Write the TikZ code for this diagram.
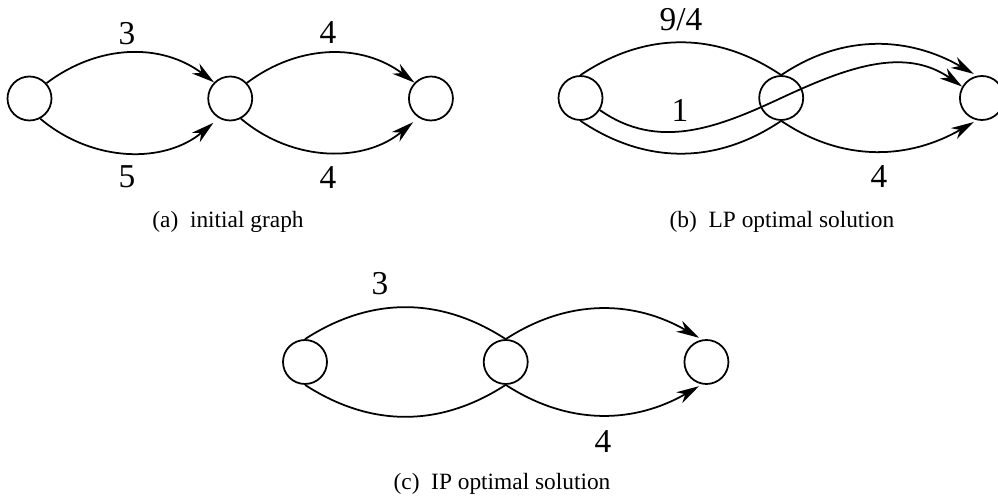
\documentclass[tikz,border=0pt]{standalone}
\usepackage{fontspec}
\setmainfont{Liberation Serif}
\usetikzlibrary{arrows.meta, positioning}

\begin{document}
\begin{tikzpicture}[
    x=0.02cm, y=-0.02cm,
    node distance=3.1cm,
    >={Stealth[length=13pt, width=7pt, inset=4pt]},
    vertex/.style={circle, draw, line width=1pt, minimum size=0.88cm, inner sep=0pt},
    arc/.style={line width=1pt},
    flow/.style={->, line width=1pt},
    weight/.style={font=\fontsize{19}{22}\selectfont, inner sep=0pt},
    caption/.style={font=\fontsize{13.3}{15}\selectfont, inner sep=0pt},
]
\useasboundingbox (0,0) rectangle (998,502);

% (a) initial graph
\node[vertex] (a1) at (29.5,98.5) {};
\node[vertex, right=of a1] (a2) {};
\node[vertex, right=of a2] (a3) {};

\draw[flow] (a1.42) to[out=37, in=143] (a2.135);
\draw[flow, shorten >=4pt] (a1.-62) to[out=-40, in=220] (a2.-120);
\draw[flow] (a2.43) to[out=37, in=143] (a3.136);
\draw[flow, shorten >=4pt] (a2.-62) to[out=-40, in=220] (a3.-123);

\node[weight] (wa1) at (127,34) {3};
\node[weight] (wa2) at (127,177) {5};
\node[weight] (wa3) at (328,33) {4};
\node[weight] (wa4) at (328,178) {4};
\node[caption] (capa) at (228,222) {(a)\hspace{0.5em}initial graph};

% (b) LP optimal solution
\node[vertex] (b1) at (580.5,98) {};
\node[vertex, right=of b1] (b2) {};
\node[vertex, right=of b2] (b3) {};

\draw[arc] (b1.north) to[out=34, in=146] (b2.north);
\draw[flow, shorten >=2pt] (b2.north) to[out=34, in=150] (b3.103);
\draw[arc] (b1.south) to[out=-34, in=214] (b2.south);
\draw[flow, shorten >=2pt] (b2.south) to[out=-34, in=210] (b3.-103);
\draw[flow] (b1.-32) to[out=-35, in=205] (b2.center) to[out=25, in=145] (b3.150);

\node[weight] (wb1) at (681,20) {9/4};
\node[weight] (wb2) at (680,110) {1};
\node[weight] (wb3) at (879,177) {4};
\node[caption] (capb) at (782,222) {(b)\hspace{0.5em}LP optimal solution};

% (c) IP optimal solution
\node[vertex] (c1) at (305,362) {};
\node[vertex, right=of c1] (c2) {};
\node[vertex, right=of c2] (c3) {};

\draw[arc] (c1.north) to[out=33, in=147] (c2.north);
\draw[flow, shorten >=2pt] (c2.north) to[out=33, in=150] (c3.101);
\draw[arc] (c1.south) to[out=-33, in=213] (c2.south);
\draw[flow, shorten >=2pt] (c2.south) to[out=-33, in=210] (c3.-101);

\node[weight] (wc1) at (380,284) {3};
\node[weight] (wc2) at (603,442) {4};
\node[caption] (capc) at (502,484) {(c)\hspace{0.5em}IP optimal solution};

\end{tikzpicture}
\end{document}
